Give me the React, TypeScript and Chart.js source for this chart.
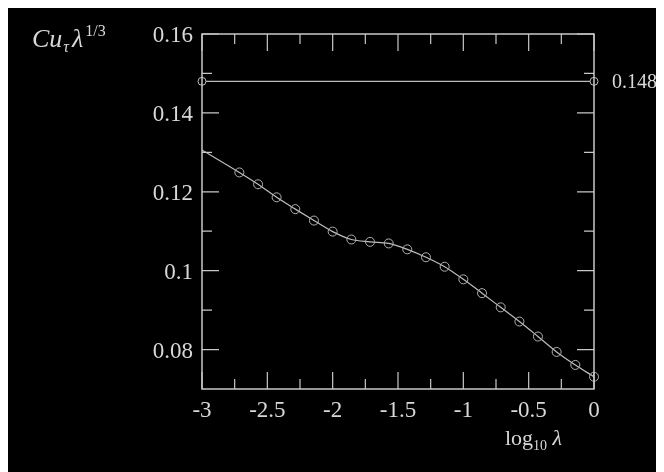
import React, { useEffect, useRef } from "react";
import { Chart, registerables } from "chart.js";

Chart.register(...registerables);

// ---- data ----
const logLambda = [
  -3, -2.714, -2.571, -2.429, -2.286, -2.143, -2.0, -1.857, -1.714, -1.571,
  -1.429, -1.286, -1.143, -1.0, -0.857, -0.714, -0.571, -0.429, -0.286, -0.143, 0,
];
const scaledValue = [
  0.1306, 0.1249, 0.1219, 0.1186, 0.1156, 0.1127, 0.1099, 0.1079, 0.1073, 0.1069,
  0.1054, 0.1034, 0.101, 0.0978, 0.0943, 0.0907, 0.0871, 0.0833, 0.0794, 0.0761, 0.0731,
];
const markerShown = [
  false, true, true, true, true, true, true, true, true, true,
  true, true, true, true, true, true, true, true, true, true, true,
];
const refX = [-3, 0];
const refY = [0.148, 0.148];
const refLabel = "0.148";

const xTickValues = [-3, -2.5, -2, -1.5, -1, -0.5, 0];
const xTickLabels = ["-3", "-2.5", "-2", "-1.5", "-1", "-0.5", "0"];
const xMinorTicks = [-2.75, -2.25, -1.75, -1.25, -0.75, -0.25];
const yTickValues = [0.08, 0.1, 0.12, 0.14, 0.16];
const yTickLabels = ["0.08", "0.1", "0.12", "0.14", "0.16"];
const yMinorTicks = [0.09, 0.11, 0.13, 0.15];

const AXIS = "#c8c8c8";
const TEXT = "#d8d8d8";
const LINE = "#bdbdbd";
const SERIF = "'Liberation Serif', 'DejaVu Serif', serif";

type Seg = { t: string; size: number; italic?: boolean; dy?: number; gap?: number };

function drawSegs(ctx: CanvasRenderingContext2D, segs: Seg[], x: number, y: number) {
  let cx = x;
  for (const s of segs) {
    ctx.font = `${s.italic ? "italic " : ""}${s.size}px ${SERIF}`;
    cx += s.gap || 0;
    ctx.fillText(s.t, cx, y + (s.dy || 0));
    cx += ctx.measureText(s.t).width;
  }
}

const framePlugin = {
  id: "frame",
  beforeDraw(chart: any) {
    const { ctx, width, height } = chart;
    ctx.save();
    ctx.fillStyle = "#000";
    ctx.fillRect(0, 0, width, height);
    ctx.restore();
  },
  afterDraw(chart: any) {
    const { ctx, chartArea } = chart;
    const { left, right, top, bottom } = chartArea;
    const xs = chart.scales.x;
    const ys = chart.scales.y;
    ctx.save();
    ctx.strokeStyle = AXIS;
    ctx.lineWidth = 1.5;
    ctx.strokeRect(left, top, right - left, bottom - top);

    const major = 17;
    const minor = 10;
    ctx.lineWidth = 1.2;
    ctx.beginPath();
    const xt = (v: number, len: number) => {
      const px = xs.getPixelForValue(v);
      ctx.moveTo(px, bottom);
      ctx.lineTo(px, bottom - len);
      ctx.moveTo(px, top);
      ctx.lineTo(px, top + len);
    };
    const yt = (v: number, len: number) => {
      const py = ys.getPixelForValue(v);
      ctx.moveTo(left, py);
      ctx.lineTo(left + len, py);
      ctx.moveTo(right, py);
      ctx.lineTo(right - len, py);
    };
    xTickValues.forEach((v) => xt(v, major));
    xMinorTicks.forEach((v) => xt(v, minor));
    yTickValues.forEach((v) => yt(v, major));
    yMinorTicks.forEach((v) => yt(v, minor));
    ctx.stroke();

    ctx.fillStyle = TEXT;
    ctx.font = `23px ${SERIF}`;
    ctx.textBaseline = "middle";
    ctx.textAlign = "center";
    xTickValues.forEach((v, i) => {
      ctx.fillText(xTickLabels[i], xs.getPixelForValue(v), bottom + 22);
    });
    ctx.textAlign = "right";
    yTickValues.forEach((v, i) => {
      ctx.fillText(yTickLabels[i], left - 9, ys.getPixelForValue(v) + 2);
    });

    ctx.textAlign = "left";
    ctx.font = `20px ${SERIF}`;
    ctx.fillText(refLabel, right + 18, ys.getPixelForValue(refY[1]) + 1);

    ctx.textBaseline = "alphabetic";
    drawSegs(
      ctx,
      [
        { t: "Cu", size: 26, italic: true },
        { t: "τ", size: 16, italic: true, dy: 5, gap: 1 },
        { t: "λ", size: 26, italic: true, gap: 3 },
        { t: "1/3", size: 16, dy: -11, gap: 2 },
      ],
      left - 170,
      top + 13
    );
    drawSegs(
      ctx,
      [
        { t: "log", size: 22 },
        { t: "10", size: 14, dy: 5 },
        { t: " λ", size: 22, italic: true },
      ],
      right - 89,
      bottom + 56
    );
    ctx.restore();
  },
};

export default function App() {
  const ref = useRef<HTMLCanvasElement | null>(null);
  useEffect(() => {
    if (!ref.current) return;
    const chart = new Chart(ref.current, {
      type: "line",
      data: {
        datasets: [
          {
            data: refX.map((x, i) => ({ x, y: refY[i] })),
            borderColor: LINE,
            borderWidth: 1.2,
            pointRadius: 4,
            pointBorderColor: LINE,
            pointBackgroundColor: "#000",
            pointBorderWidth: 1,
            clip: false as any,
          },
          {
            data: logLambda.map((x, i) => ({ x, y: scaledValue[i] })),
            borderColor: LINE,
            borderWidth: 1.2,
            cubicInterpolationMode: "monotone",
            pointRadius: markerShown.map((m) => (m ? 4.5 : 0)),
            pointBorderColor: "#b0b0b0",
            pointBackgroundColor: "rgba(0,0,0,0)",
            pointBorderWidth: 1,
            clip: false as any,
          },
        ],
      },
      options: {
        animation: false,
        responsive: false,
        events: [],
        layout: { padding: { left: 194, top: 27, right: 70, bottom: 83 } },
        plugins: { legend: { display: false }, tooltip: { enabled: false } },
        scales: {
          x: { type: "linear", min: -3, max: 0, display: false },
          y: { type: "linear", min: 0.07, max: 0.16, display: false },
        },
      },
      plugins: [framePlugin],
    });
    return () => chart.destroy();
  }, []);
  return (
    <div style={{ marginTop: -1, background: "#000", width: 656, height: 465 }}>
      <canvas ref={ref} width={656} height={465} style={{ display: "block", width: 656, height: 465 }} />
    </div>
  );
}
